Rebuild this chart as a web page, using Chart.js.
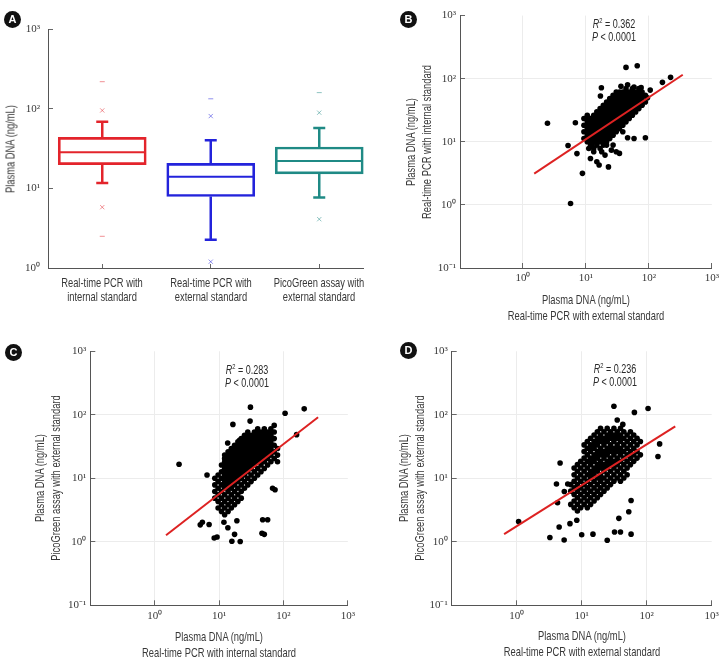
<!DOCTYPE html>
<html><head><meta charset="utf-8">
<script src="https://cdn.jsdelivr.net/npm/chart.js@4/dist/chart.umd.min.js"></script>
<style>
body{margin:0;background:#fff;width:728px;height:660px;position:relative;overflow:hidden;font-family:'Liberation Sans',Arial,sans-serif}
.panel{position:absolute;overflow:hidden}
.badge{position:absolute;width:17px;height:17px;border-radius:50%;background:#111;color:#fff;font:bold 11px 'Liberation Sans',Arial,sans-serif;text-align:center;line-height:17px}
.stat{position:absolute;font-size:12.5px;color:#2a2a2a;text-align:center;transform:translateX(-50%) scaleX(0.72);line-height:12.5px;white-space:nowrap}
.stat sup{font-size:8px;line-height:0}
.t{position:absolute;white-space:nowrap;font-size:13px;line-height:15px;color:#383838;transform:translate(-50%,-50%) scaleX(0.72)}
.tv{position:absolute;white-space:nowrap;font-size:13px;line-height:15px;color:#383838;transform:translate(-50%,-50%) rotate(-90deg) scaleX(0.72)}
</style></head>
<body>
<div class="panel" style="left:0;top:0;width:364px;height:320px"><canvas id="cA" width="374" height="320"></canvas></div>
<div class="panel" style="left:364px;top:0;width:364px;height:330px"><canvas id="cB" width="364" height="330"></canvas></div>
<div class="panel" style="left:0;top:330px;width:364px;height:330px"><canvas id="cC" width="364" height="330"></canvas></div>
<div class="panel" style="left:364px;top:330px;width:364px;height:330px"><canvas id="cD" width="364" height="330"></canvas></div>
<div class="badge" style="left:4px;top:11px">A</div>
<div class="badge" style="left:400px;top:11px">B</div>
<div class="badge" style="left:5px;top:344px">C</div>
<div class="badge" style="left:400px;top:342px">D</div>
<div class="stat" style="left:614px;top:18px"><i>R</i><sup>2</sup> = 0.362<br><i>P</i> &lt; 0.0001</div>
<div class="stat" style="left:247px;top:364px"><i>R</i><sup>2</sup> = 0.283<br><i>P</i> &lt; 0.0001</div>
<div class="stat" style="left:615px;top:363px"><i>R</i><sup>2</sup> = 0.236<br><i>P</i> &lt; 0.0001</div>
<div id="labels"></div>
<script>
// ---------- Panel A: box plot ----------
const categories = ['Real-time PCR with internal standard','Real-time PCR with external standard','PicoGreen assay with external standard'];
const categoryTickLines = [['Real-time PCR with','internal standard'],['Real-time PCR with','external standard'],['PicoGreen assay with','external standard']];
const boxQ1 = [19.8, 7.9, 15.2];
const boxMedian = [28.3, 14.0, 22.0];
const boxQ3 = [43.7, 20.6, 33.0];
const whiskerLow = [11.7, 2.27, 7.7];
const whiskerHigh = [68.5, 40.0, 57.0];
const outlierHigh = [95, 80.7, 89];
const outlierLow = [5.8, 1.2, 4.1];
const extremeHigh = [218, 133, 159];
const extremeLow = [2.5, null, null];

// ---------- Axis text ----------
const decadeValues = [0.1, 1, 10, 100, 1000];
const decadeLabels = ['10⁻¹','10⁰','10¹','10²','10³'];
const yTitleA = 'Plasma DNA (ng/mL)';
const titleB = {x:['Plasma DNA (ng/mL)','Real-time PCR with external standard'], y:['Plasma DNA (ng/mL)','Real-time PCR with internal standard']};
const titleC = {x:['Plasma DNA (ng/mL)','Real-time PCR with internal standard'], y:['Plasma DNA (ng/mL)','PicoGreen assay with external standard']};
const titleD = {x:['Plasma DNA (ng/mL)','Real-time PCR with external standard'], y:['Plasma DNA (ng/mL)','PicoGreen assay with external standard']};

// ---------- Panel B: ext-std PCR (x) vs int-std PCR (y) ----------
const panelBPoints = [
[9.3,23.4],[9.3,18.3],[9.3,14.4],[9.3,11.3],
[10.5,26.4],[10.5,20.7],[10.5,16.2],[10.5,12.7],[10.5,10.0],
[11.8,23.4],[11.8,18.3],[11.8,14.4],[11.8,11.3],[11.8,8.86],
[13.3,26.4],[13.3,20.7],[13.3,16.2],[13.3,12.7],[13.3,10.0],[13.3,7.85],
[14.9,29.8],[14.9,23.4],[14.9,18.3],[14.9,14.4],[14.9,11.3],[14.9,8.86],
[16.8,33.6],[16.8,26.4],[16.8,20.7],[16.8,16.2],[16.8,12.7],[16.8,10.0],[16.8,7.85],
[18.9,37.9],[18.9,29.8],[18.9,23.4],[18.9,18.3],[18.9,14.4],[18.9,11.3],[18.9,8.86],
[21.3,42.8],[21.3,33.6],[21.3,26.4],[21.3,20.7],[21.3,16.2],[21.3,12.7],[21.3,10.0],
[23.9,48.3],[23.9,37.9],[23.9,29.8],[23.9,23.4],[23.9,18.3],[23.9,14.4],[23.9,11.3],
[27.0,54.6],[27.0,42.8],[27.0,33.6],[27.0,26.4],[27.0,20.7],[27.0,16.2],[27.0,12.7],
[30.3,61.5],[30.3,48.3],[30.3,37.9],[30.3,29.8],[30.3,23.4],[30.3,18.3],[30.3,14.4],
[34.1,54.6],[34.1,42.8],[34.1,33.6],[34.1,26.4],[34.1,20.7],[34.1,16.2],
[38.5,61.5],[38.5,48.3],[38.5,37.9],[38.5,29.8],[38.5,23.4],[38.5,18.3],[38.5,14.4],
[43.3,69.5],[43.3,54.6],[43.3,42.8],[43.3,33.6],[43.3,26.4],[43.3,20.7],
[48.7,61.5],[48.7,48.3],[48.7,37.9],[48.7,29.8],[48.7,23.4],
[54.7,69.5],[54.7,54.6],[54.7,42.8],[54.7,33.6],[54.7,26.4],
[61.6,61.5],[61.6,48.3],[61.6,37.9],[61.6,29.8],
[69.3,69.5],[69.3,54.6],[69.3,42.8],[69.3,33.6],
[78.0,61.5],[78.0,48.3],[78.0,37.9],
[87.9,54.6],[87.9,42.8],[95,50],
[10.5,23.4],[10.5,18.3],[10.5,14.4],[10.5,11.3],
[11.8,20.7],[11.8,16.2],[11.8,12.7],[11.8,10.0],
[13.3,23.4],[13.3,18.3],[13.3,14.4],[13.3,11.3],
[14.9,26.4],[14.9,20.7],[14.9,16.2],[14.9,12.7],[14.9,10.0],
[16.8,29.8],[16.8,23.4],[16.8,18.3],[16.8,14.4],[16.8,11.3],
[18.9,33.6],[18.9,26.4],[18.9,20.7],[18.9,16.2],[18.9,12.7],[18.9,10.0],
[21.3,37.9],[21.3,29.8],[21.3,23.4],[21.3,18.3],[21.3,14.4],[21.3,11.3],
[23.9,42.8],[23.9,33.6],[23.9,26.4],[23.9,20.7],[23.9,16.2],[23.9,12.7],
[27.0,48.3],[27.0,37.9],[27.0,29.8],[27.0,23.4],[27.0,18.3],[27.0,14.4],
[30.3,54.6],[30.3,42.8],[30.3,33.6],[30.3,26.4],[30.3,20.7],[30.3,16.2],
[34.1,61.5],[34.1,48.3],[34.1,37.9],[34.1,29.8],[34.1,23.4],[34.1,18.3],
[38.5,54.6],[38.5,42.8],[38.5,33.6],[38.5,26.4],[38.5,20.7],
[43.3,61.5],[43.3,48.3],[43.3,37.9],[43.3,29.8],[43.3,23.4],
[48.7,54.6],[48.7,42.8],[48.7,33.6],[48.7,26.4],
[54.7,61.5],[54.7,48.3],[54.7,37.9],[54.7,29.8],
[61.6,54.6],[61.6,42.8],[61.6,33.6],
[69.3,61.5],[69.3,48.3],[69.3,37.9],
[78.0,54.6],[78.0,42.8],
[11.1,7.85],[13.3,6.95],[11.8,5.45],[14.9,4.83],[16.2,4.28],[20.1,6.15],[25.4,7.38],[30.3,6.95],
[34.1,6.55],[45.9,11.6],[58.1,11.3],[21.3,8.86],[12.5,8.86],[22.8,4.0],[27.0,8.86],[17.8,6.95],
[43.3,151],[65.3,160],[221,105],[164,87.5],[2.45,19.7],[6.8,20],[5.2,8.75],[7.2,6.5],[8.8,3.16],
[5.7,1.05],[88,11.6],[17.6,72],[36,75.7],[45.9,80.4],[58.1,73.8],[75.3,72.1],[105,66],[17,53.2]
];
const panelBFit = [[1.51,3.13],[345,115.6]];

// ---------- Panel C: int-std PCR (x) vs PicoGreen (y) ----------
const panelCPoints = [
[8.58,10],[8.58,7.87],[8.58,6.19],[8.58,4.87],
[9.66,11.3],[9.66,8.87],[9.66,6.98],[9.66,5.5],[9.66,4.32],[9.66,3.4],
[10.9,16.2],[10.9,12.7],[10.9,10],[10.9,7.87],[10.9,6.19],[10.9,4.87],[10.9,3.83],[10.9,3.01],
[12.2,23.2],[12.2,18.2],[12.2,14.3],[12.2,11.3],[12.2,8.87],[12.2,6.98],[12.2,5.5],[12.2,4.32],[12.2,3.4],[12.2,2.67],
[13.8,26.1],[13.8,20.5],[13.8,16.2],[13.8,12.7],[13.8,10],[13.8,7.87],[13.8,6.19],[13.8,4.87],[13.8,3.83],[13.8,3.01],
[15.5,29.4],[15.5,23.2],[15.5,18.2],[15.5,14.3],[15.5,11.3],[15.5,8.87],[15.5,6.98],[15.5,5.5],[15.5,4.32],[15.5,3.4],
[17.4,33.2],[17.4,26.1],[17.4,20.5],[17.4,16.2],[17.4,12.7],[17.4,10],[17.4,7.87],[17.4,6.19],[17.4,4.87],[17.4,3.83],
[19.6,37.4],[19.6,29.4],[19.6,23.2],[19.6,18.2],[19.6,14.3],[19.6,11.3],[19.6,8.87],[19.6,6.98],[19.6,5.5],[19.6,4.32],
[22.1,42.2],[22.1,33.2],[22.1,26.1],[22.1,20.5],[22.1,16.2],[22.1,12.7],[22.1,10],[22.1,7.87],[22.1,6.19],[22.1,4.87],
[24.8,47.5],[24.8,37.4],[24.8,29.4],[24.8,23.2],[24.8,18.2],[24.8,14.3],[24.8,11.3],[24.8,8.87],[24.8,6.98],
[27.9,53.6],[27.9,42.2],[27.9,33.2],[27.9,26.1],[27.9,20.5],[27.9,16.2],[27.9,12.7],[27.9,10],[27.9,7.87],
[31.4,47.5],[31.4,37.4],[31.4,29.4],[31.4,23.2],[31.4,18.2],[31.4,14.3],[31.4,11.3],[31.4,8.87],
[35.4,53.6],[35.4,42.2],[35.4,33.2],[35.4,26.1],[35.4,20.5],[35.4,16.2],[35.4,12.7],[35.4,10],
[39.8,60.4],[39.8,47.5],[39.8,37.4],[39.8,29.4],[39.8,23.2],[39.8,18.2],[39.8,14.3],[39.8,11.3],
[44.8,53.6],[44.8,42.2],[44.8,33.2],[44.8,26.1],[44.8,20.5],[44.8,16.2],[44.8,12.7],
[50.4,60.4],[50.4,47.5],[50.4,37.4],[50.4,29.4],[50.4,23.2],[50.4,18.2],[50.4,14.3],
[56.7,53.6],[56.7,42.2],[56.7,33.2],[56.7,26.1],[56.7,20.5],[56.7,16.2],
[63.8,60.4],[63.8,47.5],[63.8,37.4],[63.8,29.4],[63.8,23.2],[63.8,18.2],
[71.8,68.1],[71.8,53.6],[71.8,42.2],[71.8,33.2],[71.8,26.1],[71.8,20.5],
[80.8,29.4],[80.8,23.2],[80.8,18.2],
[12.2,20.5],[12.2,16.2],[12.2,12.7],[12.2,10],[12.2,7.87],
[13.8,23.2],[13.8,18.2],[13.8,14.3],[13.8,11.3],[13.8,8.87],[13.8,6.98],
[15.5,26.1],[15.5,20.5],[15.5,16.2],[15.5,12.7],[15.5,10],[15.5,7.87],
[17.4,29.4],[17.4,23.2],[17.4,18.2],[17.4,14.3],[17.4,11.3],[17.4,8.87],
[19.6,33.2],[19.6,26.1],[19.6,20.5],[19.6,16.2],[19.6,12.7],[19.6,10],
[22.1,37.4],[22.1,29.4],[22.1,23.2],[22.1,18.2],[22.1,14.3],[22.1,11.3],
[24.8,42.2],[24.8,33.2],[24.8,26.1],[24.8,20.5],[24.8,16.2],[24.8,12.7],
[27.9,47.5],[27.9,37.4],[27.9,29.4],[27.9,23.2],[27.9,18.2],[27.9,14.3],
[31.4,42.2],[31.4,33.2],[31.4,26.1],[31.4,20.5],[31.4,16.2],
[35.4,47.5],[35.4,37.4],[35.4,29.4],[35.4,23.2],[35.4,18.2],
[39.8,53.6],[39.8,42.2],[39.8,33.2],[39.8,26.1],[39.8,20.5],
[44.8,47.5],[44.8,37.4],[44.8,29.4],[44.8,23.2],[44.8,18.2],
[50.4,53.6],[50.4,42.2],[50.4,33.2],[50.4,26.1],[50.4,20.5],
[56.7,47.5],[56.7,37.4],[56.7,29.4],[56.7,23.2],
[63.8,53.6],[63.8,42.2],[63.8,33.2],[63.8,26.1],
[30.7,132],[106,106],[210,124],[30.3,79.6],[16.4,70.6],[160,48.7],[2.39,16.6],[6.5,11.3],[13.6,36],[20.8,39.7],
[5.5,2.03],[5.1,1.85],[7.0,1.87],[8.4,1.15],[9.3,1.19],[15.8,1.02],[21.3,1.01],[17.4,1.31],[13.7,1.66],[11.9,2.03],
[18.9,2.15],[47.5,2.22],[56.8,2.22],[46.4,1.36],[50.4,1.31],[67.8,6.98],[74,6.6]
];
const panelCFit = [[1.50,1.27],[345,91.6]];

// ---------- Panel D: ext-std PCR (x) vs PicoGreen (y) ----------
const panelDPoints = [
[6.79,7.96],[6.79,6.27],[6.79,3.88],
[7.64,14.5],[7.64,11.4],[7.64,8.98],[7.64,7.06],[7.64,5.56],[7.64,4.38],[7.64,3.44],
[8.59,16.4],[8.59,12.9],[8.59,10.1],[8.59,7.96],[8.59,6.27],[8.59,4.93],[8.59,3.88],[8.59,3.05],
[9.66,18.5],[9.66,14.5],[9.66,11.4],[9.66,8.98],[9.66,7.06],[9.66,5.56],[9.66,4.38],[9.66,3.44],
[10.9,33.6],[10.9,26.4],[10.9,20.8],[10.9,16.4],[10.9,12.9],[10.9,10.1],[10.9,7.96],[10.9,6.27],[10.9,4.93],[10.9,3.88],
[12.2,37.9],[12.2,29.8],[12.2,23.4],[12.2,18.5],[12.2,14.5],[12.2,11.4],[12.2,8.98],[12.2,7.06],[12.2,5.56],[12.2,4.38],[12.2,3.44],
[13.7,42.7],[13.7,33.6],[13.7,26.4],[13.7,20.8],[13.7,16.4],[13.7,12.9],[13.7,10.1],[13.7,7.96],[13.7,6.27],[13.7,4.93],[13.7,3.88],
[15.5,48.1],[15.5,37.9],[15.5,29.8],[15.5,23.4],[15.5,18.5],[15.5,14.5],[15.5,11.4],[15.5,8.98],[15.5,7.06],[15.5,5.56],[15.5,4.38],
[17.4,54.2],[17.4,42.7],[17.4,33.6],[17.4,26.4],[17.4,20.8],[17.4,16.4],[17.4,12.9],[17.4,10.1],[17.4,7.96],[17.4,6.27],[17.4,4.93],
[19.5,61.1],[19.5,48.1],[19.5,37.9],[19.5,29.8],[19.5,23.4],[19.5,18.5],[19.5,14.5],[19.5,11.4],[19.5,8.98],[19.5,7.06],[19.5,5.56],
[22.0,54.2],[22.0,42.7],[22.0,33.6],[22.0,26.4],[22.0,20.8],[22.0,16.4],[22.0,12.9],[22.0,10.1],[22.0,7.96],[22.0,6.27],
[24.7,61.1],[24.7,48.1],[24.7,37.9],[24.7,29.8],[24.7,23.4],[24.7,18.5],[24.7,14.5],[24.7,11.4],[24.7,8.98],[24.7,7.06],
[27.8,54.2],[27.8,42.7],[27.8,33.6],[27.8,26.4],[27.8,20.8],[27.8,16.4],[27.8,12.9],[27.8,10.1],[27.8,7.96],
[31.3,61.1],[31.3,48.1],[31.3,37.9],[31.3,29.8],[31.3,23.4],[31.3,18.5],[31.3,14.5],[31.3,11.4],[31.3,8.98],
[35.2,54.2],[35.2,42.7],[35.2,33.6],[35.2,26.4],[35.2,20.8],[35.2,16.4],[35.2,12.9],[35.2,10.1],
[39.5,61.1],[39.5,48.1],[39.5,37.9],[39.5,29.8],[39.5,23.4],[39.5,18.5],[39.5,14.5],[39.5,11.4],[39.5,8.98],
[44.5,54.2],[44.5,42.7],[44.5,33.6],[44.5,26.4],[44.5,20.8],[44.5,16.4],[44.5,12.9],[44.5,10.1],
[50.0,48.1],[50.0,37.9],[50.0,29.8],[50.0,23.4],[50.0,18.5],[50.0,14.5],[50.0,11.4],
[56.2,54.2],[56.2,42.7],[56.2,33.6],[56.2,26.4],[56.2,20.8],[56.2,16.4],
[63.2,48.1],[63.2,37.9],[63.2,29.8],[63.2,23.4],[63.2,18.5],
[71.1,42.7],[71.1,33.6],[71.1,26.4],[71.1,20.8],
[80.0,37.9],[80.0,23.4],
[13.7,29.8],[13.7,18.5],[13.7,11.4],
[15.5,33.6],[15.5,20.8],[15.5,12.9],
[17.4,37.9],[17.4,23.4],[17.4,14.5],
[19.5,42.7],[19.5,26.4],[19.5,16.4],[19.5,10.1],
[22.0,37.9],[22.0,23.4],[22.0,14.5],
[24.7,42.7],[24.7,26.4],[24.7,16.4],
[27.8,48.1],[27.8,29.8],[27.8,18.5],
[31.3,42.7],[31.3,26.4],[31.3,16.4],
[35.2,48.1],[35.2,29.8],[35.2,18.5],
[39.5,42.7],[39.5,26.4],
[31.3,136],[64.7,109],[105,126],[35.2,82.6],[42.9,70.6],[158,34.8],[149,22.1],[4.65,17.4],[4.09,8.15],[6.1,8.15],
[4.25,4.12],[1.07,2.08],[3.24,1.17],[5.37,1.07],[4.5,1.71],[6.6,1.93],[8.4,2.18],[10,1.29],[14.9,1.32],[24.7,1.06],
[32,1.43],[39.5,1.43],[57.5,1.32],[57.5,4.48],[53,2.98],[37.3,2.34],[5.4,6.2]
];
const panelDFit = [[0.64,1.32],[275,65.9]];

// ---------- Chart setup ----------
Chart.defaults.font.family = "'Liberation Serif','Times New Roman',serif";
Chart.defaults.font.size = 11;
Chart.defaults.color = '#383838';
const AXIS_COLOR = '#555';
const TICK_COLOR = '#666';
const boxColors = ['#e3242b','#2323db','#1f8a85'];
const fadedColors = ['rgba(227,36,43,0.5)','rgba(35,35,219,0.5)','rgba(31,138,133,0.5)'];

function decadeLabel(v){ const i = decadeValues.findIndex(d => Math.abs(d - v) < d*1e-6); return i < 0 ? '' : decadeLabels[i]; }

// HTML text placed on the library's own scale positions
const labelRoot = document.getElementById('labels');
function addText(text, x, y, vertical){
  const d = document.createElement('div');
  d.className = vertical ? 'tv' : 't';
  d.textContent = text;
  d.style.left = x + 'px'; d.style.top = y + 'px';
  labelRoot.appendChild(d);
}

// Panel A datasets
const aDatasets = [];
aDatasets.push({
  type:'line', label:'median', data: categories.map((c,i)=>({x:c,y:boxMedian[i]})),
  showLine:false, pointStyle:'line', pointRadius:43, pointBorderWidth:2, pointBorderColor:boxColors, pointBackgroundColor:boxColors
});
categories.forEach((c,i)=>{
  aDatasets.push({type:'line', label:'upper whisker', data:[{x:c,y:boxQ3[i]},{x:c,y:whiskerHigh[i]}], borderColor:boxColors[i], borderWidth:2.5, pointRadius:0});
  aDatasets.push({type:'line', label:'lower whisker', data:[{x:c,y:whiskerLow[i]},{x:c,y:boxQ1[i]}], borderColor:boxColors[i], borderWidth:2.5, pointRadius:0});
});
aDatasets.push({
  type:'line', label:'caps', showLine:false, pointStyle:'line', pointRadius:6, pointBorderWidth:2.5,
  data: categories.flatMap((c,i)=>[{x:c,y:whiskerHigh[i]},{x:c,y:whiskerLow[i]}]),
  pointBorderColor: categories.flatMap((c,i)=>[boxColors[i],boxColors[i]])
});
aDatasets.push({
  type:'line', label:'outliers', showLine:false, pointStyle:'crossRot', pointRadius:3, pointBorderWidth:1,
  data: categories.flatMap((c,i)=>[{x:c,y:outlierHigh[i]},{x:c,y:outlierLow[i]}]),
  pointBorderColor: categories.flatMap((c,i)=>[fadedColors[i],fadedColors[i]])
});
aDatasets.push({
  type:'line', label:'extremes', showLine:false, pointStyle:'line', pointRadius:2.5, pointBorderWidth:1,
  data: categories.flatMap((c,i)=>[{x:c,y:extremeHigh[i]},{x:c,y:extremeLow[i]}]),
  pointBorderColor: categories.flatMap((c,i)=>[fadedColors[i],fadedColors[i]])
});
aDatasets.push({
  type:'bar', label:'IQR', data: categories.map((c,i)=>[boxQ1[i],boxQ3[i]]),
  backgroundColor:'rgba(0,0,0,0)', borderColor:boxColors, borderWidth:2, borderSkipped:false, barThickness:88
});

const chartA = new Chart(document.getElementById('cA'), {
  type:'bar',
  data:{labels:categories, datasets:aDatasets},
  options:{
    responsive:false, animation:false, devicePixelRatio:1, events:[],
    layout:{autoPadding:false, padding:{left:0,right:0.5,top:29,bottom:0}},
    plugins:{legend:{display:false}, tooltip:{enabled:false}},
    scales:{
      x:{type:'category', offset:true,
         grid:{display:true, offset:false, drawTicks:true, tickLength:-4, tickColor:TICK_COLOR, color:'rgba(0,0,0,0)'},
         border:{display:true, color:AXIS_COLOR, width:1},
         ticks:{display:false},
         afterFit:s=>{s.height=52;}},
      y:{type:'logarithmic', min:1, max:1000,
         grid:{display:true, drawTicks:true, tickLength:-5, tickColor:TICK_COLOR, color:'rgba(0,0,0,0)'},
         border:{display:true, color:AXIS_COLOR, width:1},
         afterBuildTicks:s=>{s.ticks=[1,10,100,1000].map(v=>({value:v}));},
         ticks:{padding:13, callback:v=>decadeLabel(v)},
         afterFit:s=>{s.width=48;}}
    }
  }
});
{
  const xs = chartA.scales.x, ys = chartA.scales.y;
  categories.forEach((c,i)=>{
    const px = xs.getPixelForValue(i);
    addText(categoryTickLines[i][0], px, xs.top + 14);
    addText(categoryTickLines[i][1], px, xs.top + 28);
  });
  addText(yTitleA, 10, (ys.top + ys.bottom)/2, true);
}

function scatterPanel(id, points, fit, titles, L){
  const gridColor = c=>[1,10,100].includes(c.tick && c.tick.value)?'#ececec':'rgba(0,0,0,0)';
  const chart = new Chart(document.getElementById(id), {
    type:'scatter',
    data:{datasets:[
      {type:'line', label:'fit', data:fit.map(([x,y])=>({x,y})), borderColor:'#dd2222', borderWidth:2, pointRadius:0},
      {label:'samples', data:points.map(([x,y])=>({x,y})), backgroundColor:'#000', borderWidth:0, pointRadius:2.8}
    ]},
    options:{
      responsive:false, animation:false, devicePixelRatio:1, events:[],
      layout:{autoPadding:false, padding:{left:0,right:L.right,top:L.top,bottom:0}},
      plugins:{legend:{display:false}, tooltip:{enabled:false}},
      scales:{
        x:{type:'logarithmic', min:0.1, max:1000,
           grid:{display:true, drawTicks:true, tickLength:-5, tickColor:TICK_COLOR, color:gridColor},
           border:{display:true, color:AXIS_COLOR, width:1},
           afterBuildTicks:s=>{s.ticks=decadeValues.map(v=>({value:v}));},
           ticks:{padding:9, maxRotation:0, autoSkip:false, callback:v=>(v<0.5?'':decadeLabel(v))},
           afterFit:s=>{s.height=L.xH;}},
        y:{type:'logarithmic', min:0.1, max:1000,
           grid:{display:true, drawTicks:true, tickLength:-5, tickColor:TICK_COLOR, color:gridColor},
           border:{display:true, color:AXIS_COLOR, width:1},
           afterBuildTicks:s=>{s.ticks=decadeValues.map(v=>({value:v}));},
           ticks:{padding:9, autoSkip:false, callback:v=>decadeLabel(v)},
           afterFit:s=>{s.width=L.yW;}}
      }
    }
  });
  const xs = chart.scales.x, ys = chart.scales.y;
  const cx = L.left + (xs.left + xs.right)/2, cy = L.topOff + (ys.top + ys.bottom)/2;
  addText(titles.x[0], cx, L.topOff + xs.top + L.xT1);
  addText(titles.x[1], cx, L.topOff + xs.top + L.xT1 + 15.5);
  addText(titles.y[0], L.left + L.yT1, cy, true);
  addText(titles.y[1], L.left + L.yT1 + 16, cy, true);
}

scatterPanel('cB', panelBPoints, panelBFit, titleB,
  {left:364, topOff:0, right:7, top:14, yW:96, xH:62, yT1:46, xT1:31.3});
scatterPanel('cC', panelCPoints, panelCFit, titleC,
  {left:0, topOff:330, right:14.7, top:21.3, yW:90.3, xH:54.7, yT1:39.3, xT1:30.7});
scatterPanel('cD', panelDPoints, panelDFit, titleD,
  {left:364, topOff:330, right:16.3, top:21.3, yW:87.7, xH:54.7, yT1:39, xT1:30});
</script>
</body></html>
